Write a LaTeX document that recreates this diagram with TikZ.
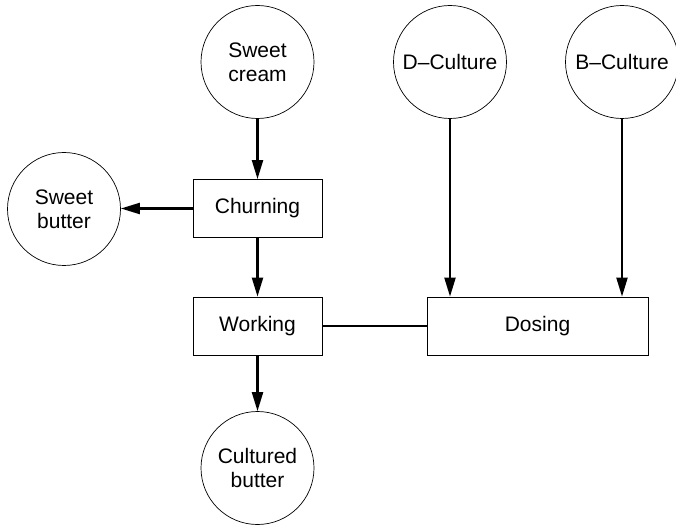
\documentclass[tikz,border=0pt]{standalone}
\usepackage{fontspec}
\setmainfont{Liberation Sans}
\usetikzlibrary{arrows.meta}
\begin{document}
\begin{tikzpicture}[x=1pt,y=-1pt,
  every node/.style={font=\fontsize{21}{24}\selectfont, align=center},
  circ/.style={draw, circle, line width=0.7pt, minimum size=113pt, inner sep=0pt},
  proc/.style={draw, rectangle, line width=0.8pt, inner sep=0pt},
  flow/.style={line width=2.2pt, -{Triangle[length=19pt,width=11pt]}},
  link/.style={line width=2pt}]
\useasboundingbox (0,0) rectangle (676,526);
\node[circ] (sc) at (257.5,62) {Sweet\\cream};
\node[circ] (dc) at (450,62) {D--Culture};
\node[circ] (bc) at (622,62) {B--Culture};
\node[circ] (sb) at (64,209) {Sweet\\butter};
\node[circ] (cb) at (257.5,468) {Cultured\\butter};
\node[proc, minimum width=129pt, minimum height=58pt] (ch) at (257.5,208.5) {Churning};
\node[proc, minimum width=129pt, minimum height=58pt] (wo) at (257.5,326) {Working};
\node[proc, minimum width=221pt, minimum height=58pt] (do) at (537.5,326) {Dosing};
\draw[flow] (sc.south) -- (ch.north);
\draw[flow] (ch.west) -- (ch.west -| sb.east);
\draw[flow] (ch.south) -- (wo.north);
\draw[flow] (wo.south) -- (cb.north);
\draw[link] (wo.east) -- (do.west);
\draw[flow] (dc.south) -- (dc.south |- do.north);
\draw[flow] (bc.south) -- (bc.south |- do.north);
\end{tikzpicture}
\end{document}
